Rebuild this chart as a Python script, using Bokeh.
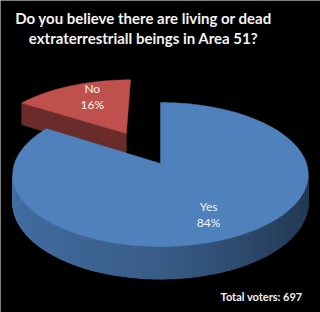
import numpy as np
from bokeh.plotting import figure
from bokeh.models import Range1d, ColumnDataSource, Label
from bokeh.core.properties import value
from bokeh.embed import file_html
from bokeh.resources import INLINE

# ---- data ----
labels = ["Yes", "No"]
values = [84, 16]
top_colors = ["#4F81BD", "#C0504D"]
exploded = [False, True]
title_lines = ["Do you believe there are living or dead",
               "extraterrestriall beings in Area 51?"]
total_voters = 697

# ---- layout constants ----
W, H = 320, 312
CX, CY = 160.0, 163.0       # projected pie centre
A, B, K = 70.3, 146.0, 0.153  # vertical scale, horizontal scale, perspective
D, M = 27.0, 0.2            # thickness and its perspective change
EXPLODE = 0.52
LABEL_R = 0.72
LABEL_ROT = -4.5


def proj(u, v, z=0.0):
    u = np.asarray(u, float)
    v = np.asarray(v, float)
    s = 1 + K * v
    return CX + B * u / s, CY - A * v / s + z * D * (1 - M * v)


def hexc(rgb):
    return "#%02x%02x%02x" % tuple(int(max(0, min(255, round(c)))) for c in rgb)


def rgb_of(h):
    h = h.lstrip("#")
    return [int(h[i:i + 2], 16) for i in (0, 2, 4)]


def shade(col, f):
    return hexc([c * f for c in rgb_of(col)])


p = figure(width=W, height=H, x_range=Range1d(0, W), y_range=Range1d(H, 0),
           output_backend="svg", toolbar_location=None, min_border=0,
           x_axis_type=None, y_axis_type=None,
           background_fill_color="black", border_fill_color="black",
           outline_line_color=None)
p.grid.visible = False

total = float(sum(values))
slices = []
a0 = 90.0
for lab, val, col, ex in zip(labels, values, top_colors, exploded):
    a1 = a0 - val / total * 360.0
    mid = np.radians((a0 + a1) / 2)
    ou, ov = (EXPLODE * np.cos(mid), EXPLODE * np.sin(mid)) if ex else (0.0, 0.0)
    slices.append(dict(label=lab, val=val, col=col, a0=a0, a1=a1, mid=mid, ou=ou, ov=ov))
    a0 = a1

# draw exploded (back) slices first
order = sorted(range(len(slices)), key=lambda i: -slices[i]["ov"])
label_rows = dict(x=[], y1=[], y2=[], name=[], pct=[])
for i in order:
    s = slices[i]
    col = s["col"]
    th = np.radians(np.linspace(s["a0"], s["a1"], 240))
    # cut faces
    for ang, sign in ((s["a0"], 1), (s["a1"], -1)):
        nrm = np.radians(ang + sign * 90)
        if np.sin(nrm) < -1e-6:
            t = np.radians(ang)
            uu = [s["ou"], s["ou"] + np.cos(t), s["ou"] + np.cos(t), s["ou"]]
            vv = [s["ov"], s["ov"] + np.sin(t), s["ov"] + np.sin(t), s["ov"]]
            zz = np.array([0, 0, 1, 1.0])
            xs, ys = [], []
            for u_, v_, z_ in zip(uu, vv, zz):
                x_, y_ = proj(u_, v_, z_)
                xs.append(float(x_)); ys.append(float(y_))
            p.patch(xs, ys, fill_color=shade(col, 0.55), line_color=shade(col, 0.55), line_width=0.5)
    # curved side (front part)
    front = np.sin(th) <= -K
    idx = np.where(front)[0]
    if len(idx) > 1:
        xs_l, ys_l, cs = [], [], []
        for j in range(idx[0], idx[-1]):
            t1, t2 = th[j], th[j + 1]
            uu = np.array([np.cos(t1), np.cos(t2)]) + s["ou"]
            vv = np.array([np.sin(t1), np.sin(t2)]) + s["ov"]
            xt, yt = proj(uu, vv, 0)
            xb, yb = proj(uu, vv, 1)
            xs_l.append([xt[0], xt[1], xb[1], xb[0]])
            ys_l.append([yt[0], yt[1], yb[1], yb[0]])
            c = np.cos((t1 + t2) / 2)
            f = 0.72 + 0.13 * (-c) if c < 0 else 0.72 - 0.30 * c
            cs.append(shade(col, f))
        p.patches(xs_l, ys_l, fill_color=cs, line_color=cs, line_width=1.2)
    # top face
    uu = np.concatenate([[0], np.cos(th), [0]]) + s["ou"]
    vv = np.concatenate([[0], np.sin(th), [0]]) + s["ov"]
    xt, yt = proj(uu, vv, 0)
    p.patch(list(xt), list(yt), fill_color=col, line_color=col, line_width=0.5)
    la = s["mid"] + np.radians(LABEL_ROT)
    lx, ly = proj(s["ou"] + LABEL_R * np.cos(la), s["ov"] + LABEL_R * np.sin(la))
    label_rows["x"].append(float(lx))
    label_rows["y1"].append(float(ly) - 8)
    label_rows["y2"].append(float(ly) + 8)
    label_rows["name"].append(s["label"])
    label_rows["pct"].append("%d%%" % round(s["val"] / total * 100))

src = ColumnDataSource(label_rows)
for ycol, tcol in (("y1", "name"), ("y2", "pct")):
    p.text(x="x", y=ycol, text=tcol, source=src, text_color="#f4f4f4",
           text_font=value("Lato"), text_font_size=value("12px"),
           text_align="center", text_baseline="middle")

for k, line in enumerate(title_lines):
    p.add_layout(Label(x=143, y=17 + 20 * k, text=line, text_color="#f2f2f2",
                       text_font="Lato", text_font_style="bold", text_font_size="15px",
                       text_align="center", text_baseline="middle"))

p.add_layout(Label(x=302, y=296, text="Total voters: %d" % total_voters,
                   text_color="#f2f2f2", text_font="Lato", text_font_style="bold",
                   text_font_size="11px", text_align="right", text_baseline="middle"))

open("out.html", "w").write(file_html(p, INLINE))
